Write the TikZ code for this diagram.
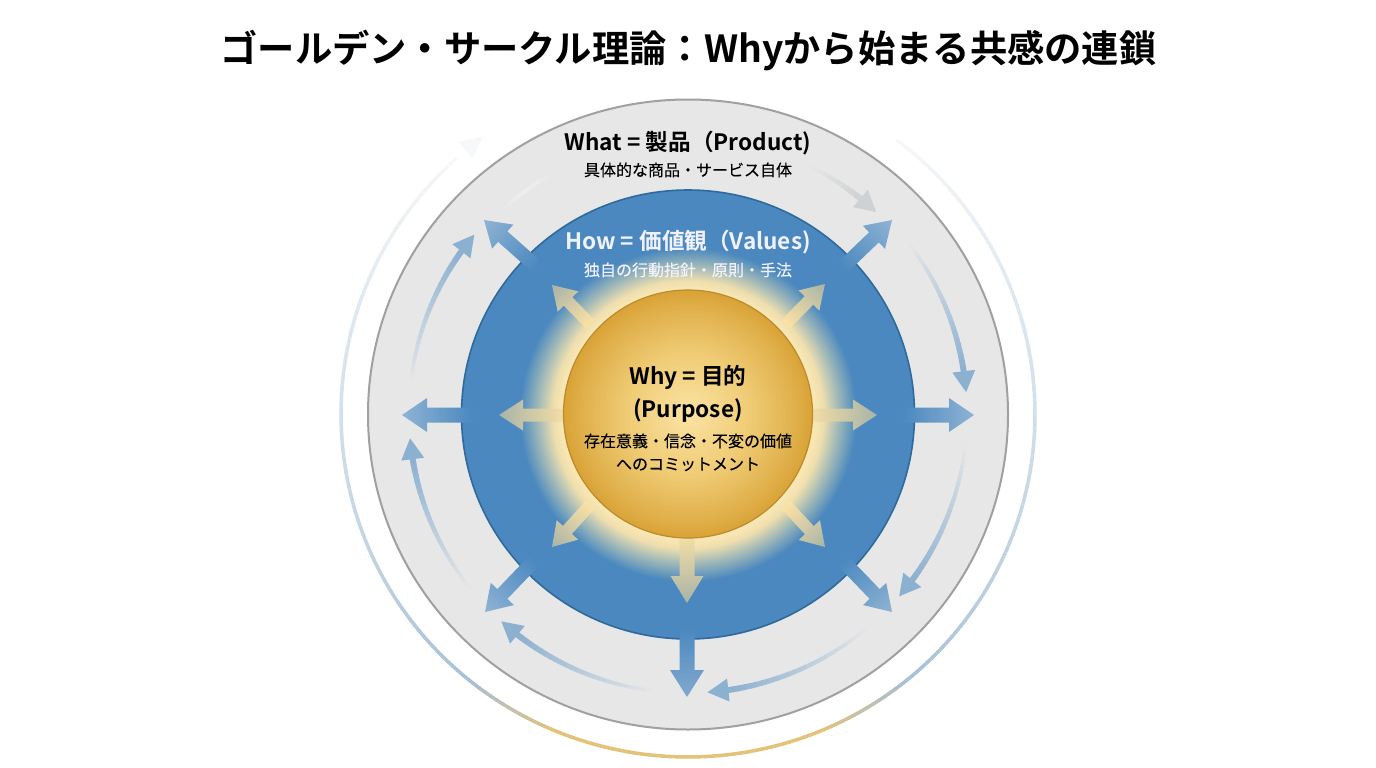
\documentclass[tikz,border=0pt]{standalone}
\usepackage{fontspec}
\usetikzlibrary{calc}
\newfontfamily\jpfont{Noto Sans CJK JP}[BoldFont={Noto Sans CJK JP Bold}]
\newfontfamily\jpmed{Noto Sans CJK JP}[FakeBold=0.25]
\definecolor{ringbg}{HTML}{E7E7E7}
\definecolor{ringedge}{HTML}{A0A0A0}
\definecolor{bluefill}{HTML}{4A88BF}
\definecolor{blueedge}{HTML}{2F6A9C}
\definecolor{goldedge}{HTML}{B98C2E}
\definecolor{ringgold}{HTML}{E3C37A}
\definecolor{ringblue}{HTML}{A7C0D4}
\definecolor{ringside}{HTML}{BDD0E0}
\definecolor{ringfaint}{HTML}{F6F8FA}
\definecolor{arcblue}{HTML}{8CB0D0}
\definecolor{arcgray}{HTML}{CFD2D5}
\definecolor{arcpale}{HTML}{EEEFEF}
\definecolor{outtip}{HTML}{8FB3D3}
\definecolor{outmid}{HTML}{82A9CE}
\definecolor{intail}{HTML}{FBE2A5}
\definecolor{intip}{HTML}{A8B3A8}
\definecolor{ga}{HTML}{FBE3A4}
\definecolor{gb}{HTML}{EFCB74}
\definecolor{gc}{HTML}{DFAE48}
\definecolor{gd}{HTML}{D9A236}
\definecolor{gla}{HTML}{FCE8B4}
\definecolor{glb}{HTML}{EFDFAE}
\definecolor{glc}{HTML}{9FB8B8}
\pgfdeclareradialshading{goldball}{\pgfpoint{0bp}{0bp}}{%
 color(0bp)=(ga); color(12.5bp)=(gb); color(22bp)=(gc); color(25bp)=(gd); color(50bp)=(gd)}
\pgfdeclareradialshading{blueglow}{\pgfpoint{0bp}{0bp}}{%
 color(0bp)=(gla); color(13.7bp)=(gla); color(14.9bp)=(glb); color(16.6bp)=(glc); color(18.6bp)=(bluefill); color(50bp)=(bluefill)}
% arc made of short pieces: rx ry a1 a2 colA colB w1 w2
\newcommand{\arcseg}[8]{%
 \pgfmathsetmacro{\nseg}{int(max(2,ceil(abs(#4-(#3))/1.2)))}%
 \foreach \i in {1,...,\nseg}{%
  \pgfmathsetmacro{\aA}{#3+(#4-(#3))*(\i-1)/\nseg}%
  \pgfmathsetmacro{\aB}{#3+(#4-(#3))*(\i+0.15)/\nseg}%
  \pgfmathsetmacro{\pct}{100*(\i-0.5)/\nseg}%
  \pgfmathsetmacro{\wd}{#7+(#8-(#7))*(\i-0.5)/\nseg}%
  \draw[line width=\wd pt,color=#6!\pct!#5]
   ({688+#1*cos(\aA)},{414-#2*sin(\aA)}) -- ({688+#1*cos(\aB)},{414-#2*sin(\aB)});
 }}
% straight block arrow: x1 y1 x2 y2 shaft head headlen colA colB
\newcommand{\blockarrow}[9]{%
 \pgfmathsetmacro{\ang}{atan2(-(#4-(#2)),#3-(#1))}%
 \pgfmathsetmacro{\len}{veclen(#3-(#1),#4-(#2))}%
 \begin{scope}[transform canvas={shift={(#1,#2)},rotate=\ang}]
  \shade[left color=#8,right color=#9]
   (0,{-#5/2}) -- ({\len-#7},{-#5/2}) -- ({\len-#7},{-#6/2}) -- (\len,0)
   -- ({\len-#7},{#6/2}) -- ({\len-#7},{#5/2}) -- (0,{#5/2}) -- cycle;
 \end{scope}}
% triangular head on an arc: radius a-tip direction(+1/-1) colour length width
\newcommand{\archead}[6]{%
 \pgfmathsetmacro{\ab}{#2-(#3)*#5/#1*57.3}%
 \pgfmathsetmacro{\bx}{688+#1*cos(\ab)}\pgfmathsetmacro{\by}{414-#1*sin(\ab)}%
 \pgfmathsetmacro{\tx}{688+#1*cos(#2)}\pgfmathsetmacro{\ty}{414-#1*sin(#2)}%
 \pgfmathsetmacro{\ang}{atan2(-(\ty-\by),\tx-\bx)}%
 \begin{scope}[transform canvas={shift={(\bx,\by)},rotate=\ang}]
  \fill[#4] (0,{-#6/2}) -- (#5,0) -- (0,{#6/2}) -- cycle;
 \end{scope}}
% flow arrow in the grey ring: a1 a-tip direction colTail colTip
\newcommand{\flowarc}[5]{%
 \arcseg{279}{279}{#1}{#2-(#3)*4.3}{#4}{#5}{3}{6}%
 \archead{279}{#2}{#3}{#5}{21}{23}}
\tikzset{
 heading/.style={font=\jpfont\bfseries\fontsize{22.6}{27}\selectfont,anchor=base,inner sep=0pt},
 subtext/.style={font=\jpmed\fontsize{16}{20}\selectfont,anchor=base,inner sep=0pt}
}
\begin{document}
\begin{tikzpicture}[x=1pt,y=-1pt]
\useasboundingbox (0,0) rectangle (1376,768);
\fill[white] (0,0) rectangle (1376,768);
% outer ring
\arcseg{347}{343}{53}{-30}{ringfaint}{ringside}{3.5}{3.5}
\arcseg{347}{343}{-30}{-52}{ringside}{ringblue}{3.5}{3.5}
\arcseg{347}{343}{-52}{-68}{ringblue}{ringgold}{3.5}{3.5}
\arcseg{347}{343}{-68}{-112}{ringgold}{ringgold}{3.5}{3.5}
\arcseg{347}{343}{-112}{-128}{ringgold}{ringblue}{3.5}{3.5}
\arcseg{347}{343}{-128}{-150}{ringblue}{ringside}{3.5}{3.5}
\arcseg{347}{343}{-150}{-228}{ringside}{ringfaint}{3.5}{3.5}
\archead{345}{-233.5}{-1}{ringfaint}{22}{22}
% grey circle
\fill[ringbg,draw=ringedge,line width=2pt] (688,414.5) ellipse [x radius=320pt,y radius=315pt];
% arc arrows in grey ring
\arcseg{276}{276}{133}{126}{ringbg}{arcpale}{3}{4}
\arcseg{276}{276}{126}{119}{arcpale}{ringbg}{4}{3}
\arcseg{276}{276}{64}{51.5}{ringbg}{arcgray}{3}{6}
\archead{276}{47}{-1}{arcgray}{21}{23}
\flowarc{38}{4.5}{-1}{ringbg}{arcblue}
\flowarc{-6}{-40.8}{-1}{ringbg}{arcblue}
\flowarc{-49.5}{-86}{-1}{ringbg}{arcblue}
\flowarc{-96.5}{-132}{-1}{ringbg}{arcblue}
\flowarc{-141}{-175}{-1}{ringbg}{arcblue}
\flowarc{-186.4}{-220}{-1}{ringbg}{arcblue}
% blue disc with glow
\shade[shading=blueglow] (688,414.5) ellipse [x radius=226.5pt,y radius=224.5pt];
\draw[blueedge,line width=1.6pt] (688,414.5) ellipse [x radius=226.5pt,y radius=224.5pt];
% outer radial arrows
\blockarrow{537}{267}{484}{220}{14}{32}{25}{bluefill}{outtip}
\blockarrow{842}{268}{892}{220}{14}{32}{25}{bluefill}{outtip}
\blockarrow{902}{415}{974}{415}{15}{34}{25}{bluefill}{outtip}
\blockarrow{842}{560}{892}{612}{14}{32}{25}{bluefill}{outtip}
\blockarrow{687}{627}{687}{697}{15}{34}{27}{bluefill}{outmid}
\blockarrow{535}{560}{485}{612}{14}{32}{25}{bluefill}{outtip}
\blockarrow{473}{415}{402}{415}{15}{34}{25}{bluefill}{outtip}
% inner radial arrows
\blockarrow{590}{324}{552}{285}{12}{29}{23}{intail}{intip}
\blockarrow{786}{324}{825}{284}{12}{29}{23}{intail}{intip}
\blockarrow{805}{415}{877}{415}{13}{31}{24}{intail}{intip}
\blockarrow{786}{505}{825}{547}{12}{29}{23}{intail}{intip}
\blockarrow{687}{530}{687}{603}{15}{33}{27}{intail}{intip}
\blockarrow{590}{505}{552}{547}{12}{29}{23}{intail}{intip}
\blockarrow{570}{415}{499}{415}{13}{31}{24}{intail}{intip}
% gold disc
\shade[shading=goldball] (688,414) ellipse [x radius=124.5pt,y radius=124pt];
\draw[goldedge,line width=1.2pt] (688,414) ellipse [x radius=124.5pt,y radius=124pt];
% texts
\node[font=\jpfont\bfseries\fontsize{37.3}{42}\selectfont,anchor=base,inner sep=0pt] (title) at (688.5,63) {ゴールデン・サークル理論：Whyから始まる共感の連鎖};
\node[heading] (what) at (688,150) {What = 製品（Product)};
\node[subtext] (whatsub) at (688,176) {具体的な商品・サービス自体};
\node[heading,text=white!95!blue] (how) at (688,249) {How = 価値観（Values)};
\node[subtext,text=white!95!blue] (howsub) at (688,276) {独自の行動指針・原則・手法};
\node[heading] (why) at (688,384) {Why = 目的};
\node[heading] (purpose) at (688,417) {(Purpose)};
\node[subtext] (whysub) at (688,447) {存在意義・信念・不変の価値};
\node[subtext] (whysubb) at (688,470) {へのコミットメント};
\end{tikzpicture}
\end{document}
